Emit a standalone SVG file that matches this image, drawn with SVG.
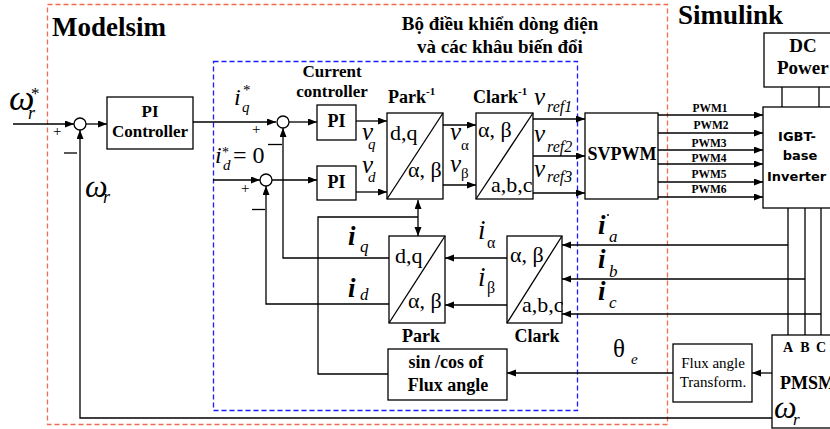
<svg xmlns="http://www.w3.org/2000/svg" width="830" height="429" viewBox="0 0 830 429">
<style>
.s{font-family:"Liberation Serif","Times New Roman",serif;fill:#000}
.b{font-weight:bold}
.i{font-style:italic}
.m{text-anchor:middle}
.box{fill:#fff;stroke:#000;stroke-width:1.3}
.ln{fill:none;stroke:#000;stroke-width:1.3}
.sans{font-family:"DejaVu Sans",sans-serif;font-weight:bold;fill:#000}
</style>
<defs>
<marker id="a" markerUnits="userSpaceOnUse" markerWidth="10" markerHeight="8" refX="9" refY="3.5" orient="auto-start-reverse">
<path d="M0,0 L9,3.5 L0,7 z" fill="#000"/>
</marker>
</defs>
<rect width="830" height="429" fill="#fff"/>

<!-- frames -->
<rect x="47.5" y="4.5" width="620" height="420" fill="none" stroke="#f26b4f" stroke-width="1.3" stroke-dasharray="5,3"/>
<rect x="213.5" y="61.5" width="364" height="349" fill="none" stroke="#1a1aff" stroke-width="1.3" stroke-dasharray="5,3"/>
<text class="s b" x="52" y="36" font-size="27">Modelsim</text>
<text class="s b" x="678" y="24" font-size="27">Simulink</text>
<text class="s b m" x="500" y="30" font-size="19">Bộ điều khiển dòng điện</text>
<text class="s b m" x="500" y="53" font-size="19">và các khâu biến đổi</text>

<!-- connectors -->
<g id="connectors">
<path class="ln" d="M13,124 H74" marker-end="url(#a)"/>
<path class="ln" d="M86,124 H107" marker-end="url(#a)"/>
<path class="ln" d="M193,122 H276" marker-end="url(#a)"/>
<path class="ln" d="M213,180 H260" marker-end="url(#a)"/>
<path class="ln" d="M289,122 H317" marker-end="url(#a)"/>
<path class="ln" d="M272,180 H317" marker-end="url(#a)"/>
<path class="ln" d="M356,121 H387" marker-end="url(#a)"/>
<path class="ln" d="M356,192 H387" marker-end="url(#a)"/>
<path class="ln" d="M443,125 H476" marker-end="url(#a)"/>
<path class="ln" d="M443,185 H476" marker-end="url(#a)"/>
<path class="ln" d="M533,119 H585" marker-end="url(#a)"/>
<path class="ln" d="M533,156 H585" marker-end="url(#a)"/>
<path class="ln" d="M533,193 H585" marker-end="url(#a)"/>
<path class="ln" d="M658,115 H763" marker-end="url(#a)"/>
<path class="ln" d="M657,133 H763" marker-end="url(#a)"/>
<path class="ln" d="M658,150 H763" marker-end="url(#a)"/>
<path class="ln" d="M658,164 H763" marker-end="url(#a)"/>
<path class="ln" d="M658,182 H763" marker-end="url(#a)"/>
<path class="ln" d="M658,197 H763" marker-end="url(#a)"/>
<path class="ln" d="M782,87 V107 M819,87 V107"/>
<path class="ln" d="M788,208 V335 M805,208 V335 M821,208 V335"/>
<path class="ln" d="M788,245 H562" marker-end="url(#a)"/>
<path class="ln" d="M805,279 H562" marker-end="url(#a)"/>
<path class="ln" d="M821,314 H562" marker-end="url(#a)"/>
<path class="ln" d="M507,258 H445" marker-end="url(#a)"/>
<path class="ln" d="M507,305 H445" marker-end="url(#a)"/>
<path class="ln" d="M389,258 H283 V128" marker-end="url(#a)"/>
<path class="ln" d="M389,304 H266 V186" marker-end="url(#a)"/>
<path class="ln" d="M388,374 H318 V217 H418"/>
<path class="ln" d="M418,200 V236" marker-start="url(#a)" marker-end="url(#a)"/>
<path class="ln" d="M673,373 H507" marker-end="url(#a)"/>
<path class="ln" d="M772,373 H752" marker-end="url(#a)"/>
<path class="ln" d="M772,418 H80 V130" marker-end="url(#a)"/>
</g>

<!-- sum junctions -->
<g id="sum1"><circle class="box" cx="80" cy="124" r="6"/>
<text class="s" x="53" y="136" font-size="15">+</text>
<path class="ln" d="M64,153 H77"/></g>
<g id="sum2"><circle class="box" cx="283" cy="122" r="6"/>
<text class="s" x="252" y="134" font-size="15">+</text>
<path class="ln" d="M268,144.5 H282"/></g>
<g id="sum3"><circle class="box" cx="266" cy="180" r="6"/>
<text class="s" x="241" y="193" font-size="15">+</text>
<path class="ln" d="M252,209.5 H265"/></g>

<!-- labels -->
<g id="labels">
<text class="s i" x="9" y="110" font-size="36">ω</text>
<text class="s i" x="28" y="119" font-size="18">r</text>
<text class="s" x="31" y="99" font-size="17">*</text>
<text class="s i" x="85" y="197" font-size="32">ω</text>
<text class="s i" x="103" y="203" font-size="18">r</text>
<text class="s i" x="234" y="105" font-size="24">i</text>
<text class="s i" x="242" y="112" font-size="15">q</text>
<text class="s" x="243" y="95" font-size="15">*</text>
<text class="s i" x="215" y="163" font-size="24">i</text>
<text class="s i" x="223" y="170" font-size="15">d</text>
<text class="s" x="222" y="157" font-size="14">*</text>
<text class="s" x="233" y="163" font-size="24">= 0</text>
<text class="s b m" x="332" y="77" font-size="17">Current</text>
<text class="s b m" x="332" y="97" font-size="17">controller</text>
<text class="s i" x="362" y="140" font-size="25">v</text>
<text class="s i" x="368" y="149" font-size="15">q</text>
<text class="s i" x="362" y="173" font-size="25">v</text>
<text class="s i" x="368" y="182" font-size="15">d</text>
<text class="s i" x="450" y="140" font-size="25">v</text>
<text class="s" x="461" y="150" font-size="15">α</text>
<text class="s i" x="450" y="172" font-size="25">v</text>
<text class="s" x="461" y="178" font-size="15">β</text>
<text class="s i" x="534" y="105" font-size="25">v</text>
<text class="s i" x="547" y="112" font-size="16">ref1</text>
<text class="s i" x="534" y="142" font-size="25">v</text>
<text class="s i" x="547" y="152" font-size="16">ref2</text>
<text class="s i" x="534" y="177" font-size="25">v</text>
<text class="s i" x="547" y="182" font-size="16">ref3</text>
<circle cx="608" cy="215" r="1" fill="#000"/>
<text class="s b m" x="710" y="112" font-size="11.5">PWM1</text>
<text class="s b m" x="711" y="129" font-size="11.5">PWM2</text>
<text class="s b m" x="709" y="147" font-size="11.5">PWM3</text>
<text class="s b m" x="709" y="162" font-size="11.5">PWM4</text>
<text class="s b m" x="709" y="178" font-size="11.5">PWM5</text>
<text class="s b m" x="709" y="193" font-size="11.5">PWM6</text>
<text class="s b i" x="598" y="234" font-size="27">i</text>
<text class="s i" x="609" y="242" font-size="17">a</text>
<text class="s b i" x="598" y="268" font-size="27">i</text>
<text class="s i" x="609" y="277" font-size="17">b</text>
<text class="s b i" x="598" y="300" font-size="27">i</text>
<text class="s i" x="609" y="308" font-size="17">c</text>
<text class="s b i" x="348" y="245" font-size="27">i</text>
<text class="s i" x="360" y="252" font-size="17">q</text>
<text class="s b i" x="348" y="297" font-size="27">i</text>
<text class="s i" x="360" y="300" font-size="17">d</text>
<text class="s i" x="478" y="239" font-size="27">i</text>
<text class="s" x="487" y="248" font-size="16">α</text>
<text class="s i" x="478" y="286" font-size="27">i</text>
<text class="s" x="487" y="293" font-size="16">β</text>
<text class="s" x="613" y="357" font-size="25">θ</text>
<text class="s i" x="631" y="364" font-size="15">e</text>
</g>

<!-- nodes -->
<g id="pi_controller">
<rect class="box" x="107" y="97" width="86" height="52"/>
<text class="s b m" x="150" y="117" font-size="17">PI</text>
<text class="s b m" x="150" y="137" font-size="17">Controller</text>
</g>
<g id="pi_q">
<rect class="box" x="317" y="105" width="39" height="35"/>
<text class="s b m" x="336.5" y="127" font-size="18">PI</text>
</g>
<g id="pi_d">
<rect class="box" x="317" y="166" width="39" height="34"/>
<text class="s b m" x="336.5" y="188" font-size="18">PI</text>
</g>
<g id="park_inv">
<rect class="box" x="387" y="113" width="56" height="86"/>
<path class="ln" d="M387,199 L443,113"/>
<text class="s" x="390" y="140" font-size="22">d,q</text>
<text class="s" x="408" y="177" font-size="22">α, β</text>
<text class="s b" x="388" y="103" font-size="18">Park<tspan font-size="11" dy="-8">-1</tspan></text>
</g>
<g id="clark_inv">
<rect class="box" x="476" y="113" width="57" height="86"/>
<path class="ln" d="M476,199 L533,113"/>
<text class="s" x="478" y="137" font-size="22">α, β</text>
<text class="s" x="491" y="192" font-size="22">a,b,c</text>
<text class="s b" x="473" y="103" font-size="18">Clark<tspan font-size="11" dy="-8">-1</tspan></text>
</g>
<g id="svpwm">
<rect class="box" x="585" y="113" width="73" height="86"/>
<text class="s b m" x="622" y="160" font-size="18">SVPWM</text>
</g>
<g id="dc_power">
<rect class="box" x="764" y="33" width="80" height="54"/>
<text class="s b m" x="803" y="52" font-size="19">DC</text>
<text class="s b" x="777" y="74" font-size="19">Power</text>
</g>
<g id="inverter">
<rect class="box" x="763" y="107" width="80" height="101"/>
<text class="sans m" x="797" y="141" font-size="13">IGBT-</text>
<text class="sans m" x="800" y="160" font-size="13">base</text>
<text class="sans" x="767" y="181" font-size="13">Inverter</text>
</g>
<g id="park">
<rect class="box" x="389" y="236" width="56" height="87"/>
<path class="ln" d="M389,323 L445,236"/>
<text class="s" x="395" y="263" font-size="22">d,q</text>
<text class="s" x="408" y="308" font-size="22">α, β</text>
<text class="s b m" x="421" y="342" font-size="18">Park</text>
</g>
<g id="clark">
<rect class="box" x="507" y="236" width="55" height="87"/>
<path class="ln" d="M507,323 L562,236"/>
<text class="s" x="510" y="262" font-size="22">α, β</text>
<text class="s" x="522" y="312" font-size="22">a,b,c</text>
<text class="s b m" x="537" y="342" font-size="18">Clark</text>
</g>
<g id="sincos">
<rect class="box" x="388" y="349" width="119" height="51"/>
<text class="s b m" x="446" y="368" font-size="18">sin /cos of</text>
<text class="s b m" x="448" y="391" font-size="18">Flux angle</text>
</g>
<g id="flux_transform">
<rect class="box" x="673" y="344" width="79" height="58"/>
<text class="s m" x="713" y="368" font-size="15">Flux angle</text>
<text class="s m" x="713" y="387" font-size="15">Transform.</text>
</g>
<g id="pmsm">
<rect class="box" x="772" y="335" width="70" height="93"/>
<text class="s b m" x="788" y="352" font-size="14">A</text>
<text class="s b m" x="805" y="352" font-size="14">B</text>
<text class="s b m" x="821" y="352" font-size="14">C</text>
<text class="s b" x="780" y="389" font-size="18">PMSM</text>
<text class="s i" x="774" y="418" font-size="32">ω</text>
<text class="s i" x="793" y="425" font-size="17">r</text>
</g>
</svg>
